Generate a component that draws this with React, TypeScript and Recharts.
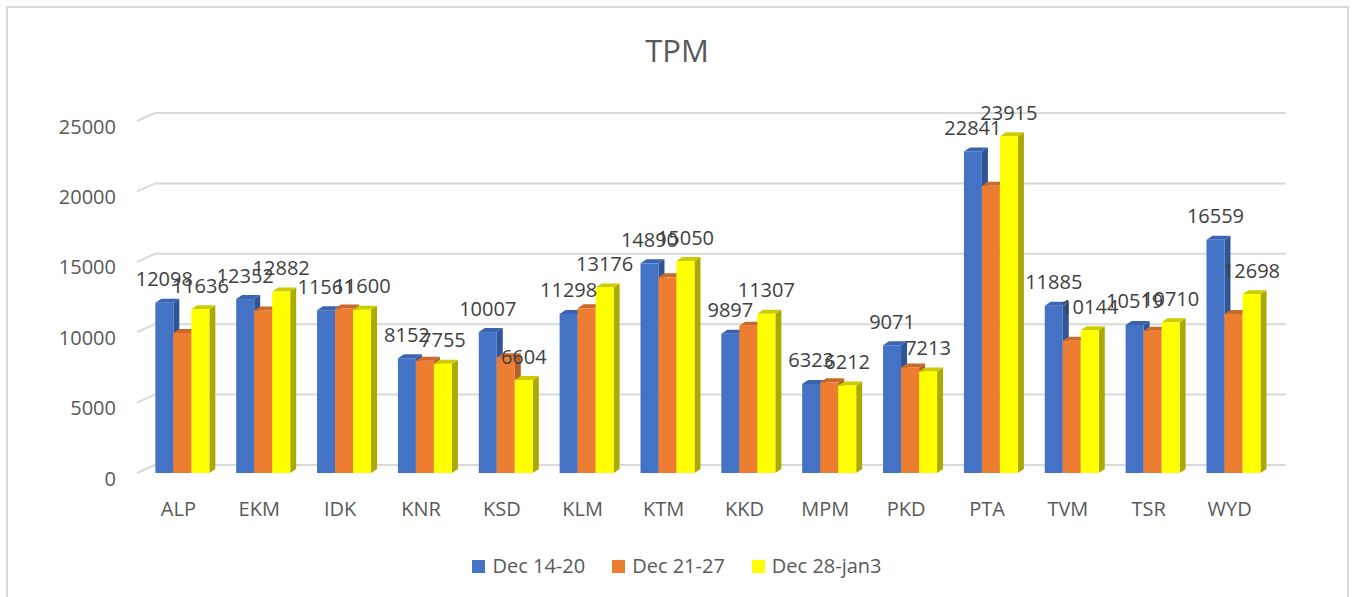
import React from "react";
import { BarChart, Bar, XAxis, YAxis, CartesianGrid, LabelList } from "recharts";

const categories = ["ALP", "EKM", "IDK", "KNR", "KSD", "KLM", "KTM", "KKD", "MPM", "PKD", "PTA", "TVM", "TSR", "WYD"];
const dec14to20 = [12098, 12352, 11561, 8152, 10007, 11298, 14890, 9897, 6323, 9071, 22841, 11885, 10519, 16559];
const dec21to27 = [9950, 11550, 11680, 7980, 8220, 11700, 13900, 10450, 6440, 7500, 20400, 9400, 10100, 11300];
const dec28toJan3 = [11636, 12882, 11600, 7755, 6604, 13176, 15050, 11307, 6212, 7213, 23915, 10144, 10710, 12698];
const yTicks = [0, 5000, 10000, 15000, 20000, 25000];

const seriesNames = ["Dec 14-20", "Dec 21-27", "Dec 28-jan3"];

const data = categories.map((c, i) => ({
  name: c,
  s1: dec14to20[i],
  s2: dec21to27[i],
  s3: dec28toJan3[i],
}));

const FONT = "'Open Sans', sans-serif";
const DX = 6;
const DY = 4;

// front face + darker side and top to fake excel's 3d columns
const make3D = (front: string, side: string, top: string) => (props: any) => {
  const { x, y, width: w, height: h } = props;
  if (h == null || h <= 0) return <g />;
  return (
    <g>
      <path
        d={`M${x + w},${y} L${x + w + DX},${y - DY} L${x + w + DX},${y + h - DY} L${x + w},${y + h} Z`}
        fill={side}
      />
      <path d={`M${x},${y} L${x + DX},${y - DY} L${x + w + DX},${y - DY} L${x + w},${y} Z`} fill={top} />
      <rect x={x} y={y} width={w} height={h} fill={front} />
    </g>
  );
};

const gridLine = (props: any) => {
  const { x1, x2, y1, key } = props;
  return (
    <path
      key={key}
      d={`M${x1 - 5},${y1} L${x1 + 13},${y1 - 8} L${x2 + 12},${y1 - 8}`}
      stroke="#d9d9d9"
      strokeWidth={2}
      fill="none"
    />
  );
};

const valueLabel = (props: any) => {
  const vb = props.viewBox || props;
  const x = vb.x + vb.width / 2;
  return (
    <text x={x} y={vb.y - 24} textAnchor="middle" dominantBaseline="central" fill="#404040" fontSize={20} fontFamily={FONT}>
      {props.value}
    </text>
  );
};

const YTick = (props: any) => (
  <text x={props.x - 26} y={props.y + 5} textAnchor="end" dominantBaseline="central" fill="#595959" fontSize={20} fontFamily={FONT}>
    {props.payload.value}
  </text>
);

const XTick = (props: any) => (
  <text x={props.x - 4} y={props.y + 35} textAnchor="middle" dominantBaseline="central" fill="#595959" fontSize={20} fontFamily={FONT}>
    {props.payload.value}
  </text>
);

const legendColors = ["#4472C4", "#ED7D31", "#FFFF00"];

export default function App() {
  return (
    <div style={{ position: "absolute", left: 0, top: 0, width: 1354, height: 597, background: "#fff", overflow: "hidden", fontFamily: FONT }}>
      <div
        style={{
          position: "absolute",
          left: 6,
          top: 6,
          width: 1339,
          height: 620,
          border: "2px solid #d9d9d9",
          borderBottom: "none",
        }}
      />
      <div
        style={{
          position: "absolute",
          left: 0,
          width: 1354,
          top: 29,
          textAlign: "center",
          fontSize: 31,
          color: "#595959",
          lineHeight: "42px",
        }}
      >
        TPM
      </div>
      <div style={{ position: "absolute", left: 0, top: 0 }}>
        <BarChart
          width={1354}
          height={597}
          data={data}
          margin={{ top: 121, right: 80, bottom: 94, left: 0 }}
          barCategoryGap="16.5%"
          barGap={0}
        >
          <CartesianGrid vertical={false} horizontal={gridLine} />
          <XAxis dataKey="name" axisLine={false} tickLine={false} tickSize={0} tickMargin={0} height={30} tick={<XTick />} interval={0} />
          <YAxis
            domain={[0, 25000]}
            ticks={yTicks}
            axisLine={false}
            tickLine={false}
            tickSize={0}
            tickMargin={0}
            width={142}
            tick={<YTick />}
          />
          <Bar dataKey="s1" name={seriesNames[0]} fill="#4472C4" shape={make3D("#4472C4", "#2F5597", "#3A64B2")} isAnimationActive={false}>
            <LabelList dataKey="s1" content={valueLabel} />
          </Bar>
          <Bar dataKey="s2" name={seriesNames[1]} fill="#ED7D31" shape={make3D("#ED7D31", "#B65F25", "#C9692A")} isAnimationActive={false} />
          <Bar dataKey="s3" name={seriesNames[2]} fill="#FFFF00" shape={make3D("#FFFF00", "#AAAA00", "#CCCC00")} isAnimationActive={false}>
            <LabelList dataKey="s3" content={valueLabel} />
          </Bar>
        </BarChart>
      </div>
      <div
        style={{
          position: "absolute",
          left: 0,
          width: 1354,
          top: 552,
          display: "flex",
          justifyContent: "center",
          fontSize: 20,
          color: "#595959",
          lineHeight: "28px",
        }}
      >
        {seriesNames.map((n, i) => (
          <div key={n} style={{ display: "flex", alignItems: "center", marginRight: i < 2 ? 27 : 0 }}>
            <span style={{ width: 13, height: 13, background: legendColors[i], marginRight: 7, display: "inline-block" }} />
            {n}
          </div>
        ))}
      </div>
    </div>
  );
}
